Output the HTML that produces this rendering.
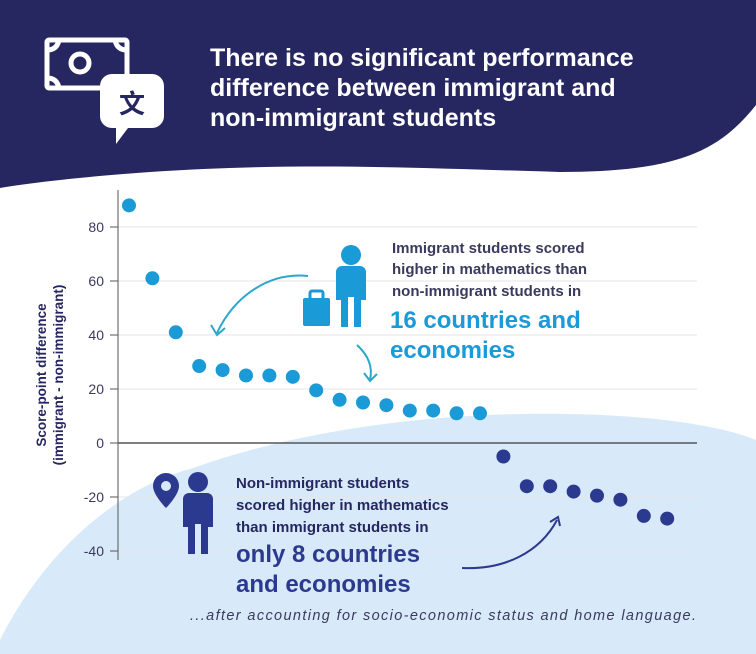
<!DOCTYPE html>
<html><head><meta charset="utf-8"><style>
html,body{margin:0;padding:0;background:#fff;}
svg{display:block;font-family:"Liberation Sans",sans-serif;}
</style></head><body>
<svg width="756" height="654" viewBox="0 0 756 654">
<path d="M0,654 L0,640 C40,560 110,490 193,468 C300,430 420,416 520,414 C640,412 720,425 756,440 L756,654 Z" fill="#d8eaf9"/>
<path d="M0,0 L756,0 L756,105 C720,150 680,172 560,172 C420,168 300,162 150,172 C80,177 30,183 0,188 Z" fill="#262660"/>
<g fill="none" stroke="#fff" stroke-width="5">
<rect x="47" y="40" width="80" height="48" rx="2"/>
<circle cx="80" cy="63" r="9"/>
<path d="M47,50 q10,0 12,-10 M115,40 q2,10 12,10 M47,78 q10,0 12,10"/>
<path d="M112,74 h40 a12,12 0 0 1 12,12 v30 a12,12 0 0 1 -12,12 h-24 l-12,16 v-16 h-4 a12,12 0 0 1 -12,-12 v-30 a12,12 0 0 1 12,-12 Z" fill="#fff" stroke="none"/>
<text x="132" y="113" font-size="26" fill="#262660" stroke="none" font-family="Noto Sans CJK SC,sans-serif" font-weight="bold" text-anchor="middle">文</text>
</g>
<g fill="#fff" font-size="25" font-weight="bold">
<text x="210" y="66">There is no significant performance</text>
<text x="210" y="96">difference between immigrant and</text>
<text x="210" y="126">non-immigrant students</text>
</g>
<g id="grid"></g>
<g id="axis"></g>
<text transform="translate(46,375) rotate(-90)" font-size="13.5" font-weight="bold" fill="#262660" text-anchor="middle"><tspan x="0" dy="0">Score-point difference</tspan><tspan x="0" dy="17">(immigrant - non-immigrant)</tspan></text>
<g id="dots"></g>
<g>
<text x="392" y="253" font-size="15" font-weight="bold" fill="#3a3a5c">Immigrant students scored</text>
<text x="392" y="274" font-size="15" font-weight="bold" fill="#3a3a5c">higher in mathematics than</text>
<text x="392" y="296" font-size="15" font-weight="bold" fill="#3a3a5c">non-immigrant students in</text>
<text x="390" y="328" font-size="24" font-weight="bold" fill="#1a9ad6">16 countries and</text>
<text x="390" y="358" font-size="24" font-weight="bold" fill="#1a9ad6">economies</text>
<g fill="#1a9ad6">
<circle cx="351" cy="255" r="10"/>
<path d="M336,272 a6,6 0 0 1 6,-6 h18 a6,6 0 0 1 6,6 v28 h-5 v27 h-7 v-30 h-6 v30 h-7 v-27 h-5 Z"/>
<rect x="303" y="298" width="27" height="28" rx="2"/>
<rect x="310" y="291" width="13" height="9" rx="2" fill="none" stroke="#1a9ad6" stroke-width="3"/>
</g>
<path d="M308,276 C270,272 235,295 217,333" fill="none" stroke="#2aa7c9" stroke-width="2"/>
<path d="M211,325 L217,335 L225,328" fill="none" stroke="#2aa7c9" stroke-width="2"/>
<path d="M357,345 C368,355 373,367 370,380" fill="none" stroke="#2aa7c9" stroke-width="2"/>
<path d="M364,373 L370,381 L377,374" fill="none" stroke="#2aa7c9" stroke-width="2"/>
</g>
<g>
<text x="236" y="488" font-size="15" font-weight="bold" fill="#262660">Non-immigrant students</text>
<text x="236" y="510" font-size="15" font-weight="bold" fill="#262660">scored higher in mathematics</text>
<text x="236" y="532" font-size="15" font-weight="bold" fill="#262660">than immigrant students in</text>
<text x="236" y="562" font-size="24" font-weight="bold" fill="#2b3a8f">only 8 countries</text>
<text x="236" y="592" font-size="24" font-weight="bold" fill="#2b3a8f">and economies</text>
<g fill="#2b3a8f">
<path d="M153,486 a13,13 0 0 1 26,0 c0,9 -13,22 -13,22 c0,0 -13,-13 -13,-22 Z"/>
<circle cx="166" cy="486" r="5" fill="#d8eaf9"/>
<circle cx="198" cy="482" r="10"/>
<path d="M183,499 a6,6 0 0 1 6,-6 h18 a6,6 0 0 1 6,6 v28 h-5 v27 h-7 v-30 h-6 v30 h-7 v-27 h-5 Z"/>
</g>
<path d="M462,568 C505,570 540,552 557,520" fill="none" stroke="#2b3a8f" stroke-width="2"/>
<path d="M550,522 L558,517 L560,526" fill="none" stroke="#2b3a8f" stroke-width="2"/>
</g>
<text x="696" y="620" font-size="14.5" font-style="italic" fill="#3a3a5c" text-anchor="end" textLength="506">...after accounting for socio-economic status and home language.</text>
<script>
const tickValues=[80,60,40,20,0,-20,-40];
const tickLabels=["80","60","40","20","0","-20","-40"];
const pointValues=[88,61,41,28.5,27,25,25,24.5,19.5,16,15,14,12,12,11,11,-5,-16,-16,-18,-19.5,-21,-27,-28];
const ns="http://www.w3.org/2000/svg";
function yScale(v){return 443-v*2.7;}
function xScale(i){return 129+i*23.4;}
function mk(t,a,p){const e=document.createElementNS(ns,t);for(const k in a)e.setAttribute(k,a[k]);p.appendChild(e);return e;}
const grid=document.getElementById('grid'),axis=document.getElementById('axis'),dots=document.getElementById('dots');
tickValues.forEach((v,i)=>{
 const y=yScale(v);
 if(v!==0){const g=mk('line',{x1:118,x2:697,y1:y,y2:y,stroke:'#e6e6ea','stroke-width':1},grid);
 
 }
 const t=mk('line',{x1:110,x2:118,y1:y,y2:y,stroke:'#555','stroke-width':1},axis);
 
 
 const l=mk('text',{x:104,y:y+5,'font-size':14,fill:'#3a3a5c','text-anchor':'end'},axis);
 l.textContent=tickLabels[i];
 
 
});
const al=mk('line',{x1:118,x2:118,y1:190,y2:560,stroke:'#555','stroke-width':1},axis);


const zl=mk('line',{x1:118,x2:697,y1:yScale(0),y2:yScale(0),stroke:'#555','stroke-width':1.5},axis);


pointValues.forEach((v,i)=>{
 const c=mk('circle',{cx:xScale(i),cy:yScale(v),r:7,fill:v>=0?'#1a9ad6':'#2b3a8f'},dots);
 
 
});
</script>
</svg>
</body></html>
